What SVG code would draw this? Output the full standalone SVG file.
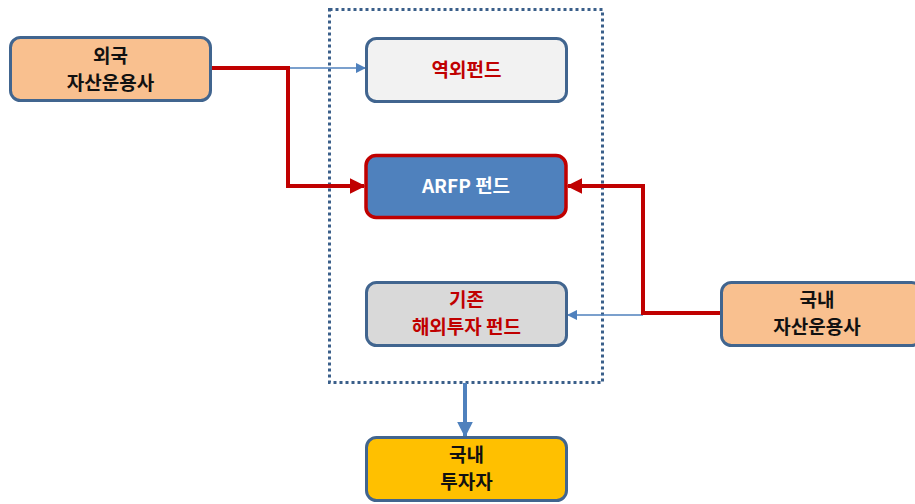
<svg xmlns="http://www.w3.org/2000/svg" width="915" height="504" viewBox="0 0 915 504">
<defs>
<style>
.box{stroke:#41658F;stroke-width:3}
.t{font-family:"Noto Sans CJK KR","Liberation Sans",sans-serif;font-weight:bold;font-size:19px;text-anchor:middle}
.blk{fill:#111}
.red{fill:#C00000}
.wht{fill:#fff}
.rl{fill:none;stroke:#C00000;stroke-width:4}
.bl{fill:none;stroke:#4F81BD;stroke-width:1.5}
</style>
<marker id="ar" viewBox="0 0 10 10" refX="9" refY="5" markerWidth="4" markerHeight="4" orient="auto" markerUnits="strokeWidth"><path d="M0,0L10,5L0,10z" fill="#C00000"/></marker>
<marker id="ab" viewBox="0 0 10 10" refX="9" refY="5" markerWidth="7" markerHeight="7" orient="auto" markerUnits="strokeWidth"><path d="M0,0L10,5L0,10z" fill="#4F81BD"/></marker>
<marker id="ab2" viewBox="0 0 10 10" refX="9" refY="5" markerWidth="4" markerHeight="4" orient="auto" markerUnits="strokeWidth"><path d="M0,0L10,5L0,10z" fill="#4F81BD"/></marker>
</defs>
<rect x="329.5" y="9.5" width="273" height="373" fill="none" stroke="#3A5F8A" stroke-width="3" stroke-dasharray="3,3"/>
<g id="connectors">
<path class="bl" d="M288,68H365" marker-end="url(#ab)"/>
<path class="rl" d="M211,68H288V186H364" marker-end="url(#ar)"/>
<path class="bl" d="M643,315H568" marker-end="url(#ab)"/>
<path class="rl" d="M721,313H643V186H568" marker-end="url(#ar)"/>
<path fill="none" stroke="#4F81BD" stroke-width="4" d="M465,383V436" marker-end="url(#ab2)"/>
</g>
<g id="foreign">
<rect class="box" x="10.5" y="37.5" width="200" height="63" rx="10" fill="#F9C08F"/>
<text class="t blk" x="110.5" y="63">외국</text>
<text class="t blk" x="110.5" y="90">자산운용사</text>
</g>
<g id="offshore">
<rect class="box" x="366.5" y="38.5" width="200" height="63" rx="10" fill="#F2F2F2"/>
<text class="t red" x="466.5" y="77">역외펀드</text>
</g>
<g id="arfp">
<rect x="366" y="155.5" width="200" height="62" rx="10" fill="#4F81BD" stroke="#C00000" stroke-width="3.5"/>
<text class="t wht" x="466" y="193">ARFP 펀드</text>
</g>
<g id="existing">
<rect class="box" x="366.5" y="282.5" width="200" height="63" rx="10" fill="#D9D9D9"/>
<text class="t red" x="466.5" y="307">기존</text>
<text class="t red" x="466.5" y="334">해외투자 펀드</text>
</g>
<g id="domestic">
<rect class="box" x="721.5" y="282.5" width="200" height="63" rx="10" fill="#F9C08F"/>
<text class="t blk" x="817" y="307">국내</text>
<text class="t blk" x="817" y="334">자산운용사</text>
</g>
<g id="investor">
<rect class="box" x="366.5" y="437.5" width="200" height="63" rx="10" fill="#FFC000"/>
<text class="t blk" x="466.5" y="462">국내</text>
<text class="t blk" x="466.5" y="489">투자자</text>
</g>
</svg>
